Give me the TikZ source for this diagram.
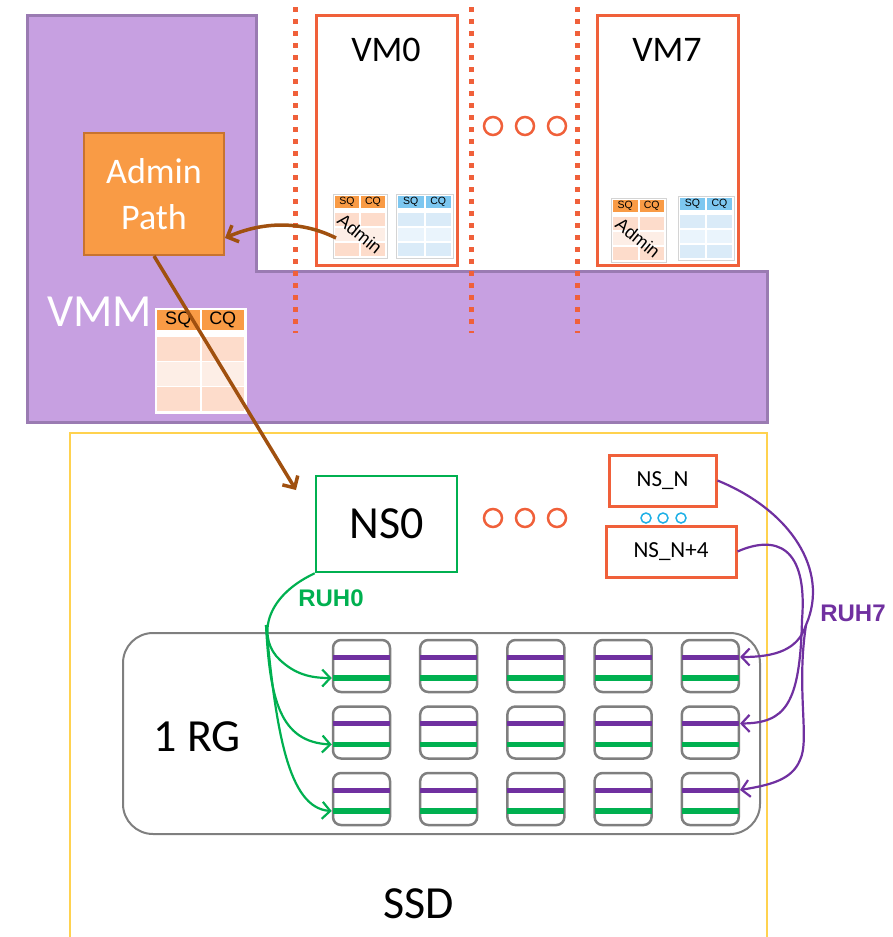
\documentclass[tikz,border=0pt]{standalone}
\usepackage{fontspec}
\setmainfont{Carlito}
\newfontfamily\arialf{Liberation Sans}
\usetikzlibrary{arrows.meta}
\definecolor{vmmfill}{HTML}{C7A0E1}
\definecolor{vmmline}{HTML}{9A7BB2}
\definecolor{vmred}{HTML}{F0603A}
\definecolor{admfill}{HTML}{F99B45}
\definecolor{admline}{HTML}{C8732F}
\definecolor{rowA}{HTML}{FDDCCB}
\definecolor{rowB}{HTML}{FDEEE6}
\definecolor{bhdr}{HTML}{7DC7F0}
\definecolor{browA}{HTML}{DAEBF8}
\definecolor{browB}{HTML}{EAF4FC}
\definecolor{ssdy}{HTML}{FFD24F}
\definecolor{grn}{HTML}{00B050}
\definecolor{prp}{HTML}{7030A0}
\definecolor{brn}{HTML}{A0500F}
\definecolor{gry}{HTML}{7F7F7F}
\definecolor{nsblue}{HTML}{1FB0E6}
\definecolor{tabline}{HTML}{D4D4D4}
\newcommand\qtab[9]{%
\pgfmathsetmacro\qcw{(#3-6)/2}%
\pgfmathsetmacro\qhh{0.19*#4}%
\pgfmathsetmacro\qrh{(#4-7-\qhh-0.07*#4)/3}%
\pgfmathsetmacro\qry{#2+2+\qhh+0.07*#4}%
\draw[draw=#8,fill=white,line width=0.8] (#1,#2) rectangle ++(#3,#4);
\foreach \qc in {0,1}{%
 \pgfmathsetmacro\qx{#1+2+\qc*(\qcw+2)}%
 \fill[#5] (\qx,{#2+2}) rectangle ++(\qcw,\qhh);
 \fill[#6] (\qx,\qry) rectangle ++(\qcw,\qrh);
 \fill[#7] (\qx,{\qry+\qrh+1.5}) rectangle ++(\qcw,\qrh);
 \fill[#6] (\qx,{\qry+2*\qrh+3}) rectangle ++(\qcw,\qrh);
}
\node[font=\arialf\fontsize{#9}{#9}\selectfont,inner sep=0] at ({#1+2+\qcw/2},{#2+2+\qhh/2}) {SQ};
\node[font=\arialf\fontsize{#9}{#9}\selectfont,inner sep=0] at ({#1+4+1.5*\qcw},{#2+2+\qhh/2}) {CQ};
}
\tikzset{
 vmbox/.style={draw=vmred,line width=3,fill=white,minimum width=141,minimum height=250,inner sep=0},
 dotline/.style={draw=vmred,line width=5,dash pattern=on 5 off 7},
 dotc/.style={draw=vmred,line width=2.5,circle,minimum size=18,inner sep=0},
 smallc/.style={draw=nsblue,line width=1.5,circle,minimum size=10,inner sep=0},
 nsbox/.style={draw=vmred,line width=3,fill=white,inner sep=0,font=\fontsize{23}{26}\selectfont},
 cellbox/.style={draw=gry,line width=2.5,rounded corners=8,minimum width=57,minimum height=52,inner sep=0},
 brnarrow/.style={draw=brn,line width=3.5,-{Straight Barb[length=9pt,width=18pt]}},
 grnarrow/.style={draw=grn,line width=2.2,-{Straight Barb[length=8pt,width=17pt]}},
 prparrow/.style={draw=prp,line width=2.2,-{Straight Barb[length=8pt,width=17pt]}},
 bigtxt/.style={font=\fontsize{46}{50}\selectfont,inner sep=0},
}
\begin{document}
\begin{tikzpicture}[x=1pt,y=-1pt]
\useasboundingbox (0,0) rectangle (892,937);
% VMM
\draw[vmmline,fill=vmmfill,line width=3] (27,15) -- (256,15) -- (256,271) -- (767,271) -- (767,422) -- (27,422) -- cycle;
\node[bigtxt,text=white,anchor=west] (vmml) at (47,312) {VMM};
% SSD
\draw[ssdy,line width=2.5] (70,937) -- (70,433) -- (767,433) -- (767,937);
\node[bigtxt] (ssdl) at (419,904) {SSD};
% dotted separators
\draw[dotline] (295,7) -- (295,333);
\draw[dotline] (471,7) -- (471,333);
\draw[dotline] (577,7) -- (577,333);
% VMs
\node[vmbox] (vm0) at (386.5,140) {};
\node[vmbox] (vm7) at (667.5,140) {};
\node[font=\fontsize{36}{40}\selectfont,inner sep=0] (vm0l) at (386,50) {VM0};
\node[font=\fontsize{36}{40}\selectfont,inner sep=0] (vm7l) at (667,50) {VM7};
\node[dotc] (d1) at (493,126) {};
\node[dotc] (d2) at (525,126) {};
\node[dotc] (d3) at (557,126) {};
% queue tables
\qtab{333}{194}{54}{64}{admfill}{rowA}{rowB}{tabline}{10.5}
\qtab{396}{194}{57}{64}{bhdr}{browA}{browB}{tabline}{10.5}
\qtab{611}{198}{55}{64}{admfill}{rowA}{rowB}{tabline}{10.5}
\qtab{678}{196}{56}{64}{bhdr}{browA}{browB}{tabline}{10.5}
\qtab{155}{308}{91}{105}{admfill}{rowA}{rowB}{white}{18}
\node[font=\arialf\fontsize{18}{18}\selectfont,rotate=-39,inner sep=0] (adt0) at (360,234) {Admin};
\node[font=\arialf\fontsize{18}{18}\selectfont,rotate=-39,inner sep=0] (adt7) at (638,238) {Admin};
% Admin path
\node[draw=admline,fill=admfill,line width=2,minimum width=140,minimum height=122,inner sep=0,
      text=white,align=center,font=\fontsize{36}{46}\selectfont] (admin) at (154,194) {Admin\\Path};
\coordinate (adm0) at (336,238);
\coordinate (nsin) at (296,490);
% NS boxes
\node[draw=grn,line width=2.5,fill=white,minimum width=141,minimum height=96,inner sep=0,
      font=\fontsize{46}{50}\selectfont] (ns0) at (386.5,524) {NS0};
\node[dotc] (e1) at (493,518) {};
\node[dotc] (e2) at (525,518) {};
\node[dotc] (e3) at (557,518) {};
\node[nsbox,minimum width=107,minimum height=51] (nsn) at (662.5,480.5) {NS\_N};
\node[nsbox,minimum width=130,minimum height=51] (nsn4) at (671,551.5) {NS\_N+4};
\node[smallc] (f1) at (646,518) {};
\node[smallc] (f2) at (663,518) {};
\node[smallc] (f3) at (681,518) {};
% RG
\draw[gry,line width=2,rounded corners=30] (123,633) rectangle (760,834);
\node[bigtxt] (rgl) at (197,737) {1 RG};
\foreach \i in {0,...,4}{
 \foreach \j in {0,1,2}{
  \pgfmathsetmacro\cx{361.5+87.2*\i}
  \pgfmathsetmacro\cy{666+66.5*\j}
  \node[cellbox] (c\i\j) at (\cx,\cy) {};
  \draw[prp,line width=5] ([xshift=1.2pt,yshift=9pt]c\i\j.west) -- ([xshift=-1.2pt,yshift=9pt]c\i\j.east);
  \draw[grn,line width=5.5] ([xshift=1.2pt,yshift=-12pt]c\i\j.west) -- ([xshift=-1.2pt,yshift=-12pt]c\i\j.east);
 }
}
% brown arrows
\draw[brnarrow] (adm0) .. controls (300,220) and (262,222) .. ([yshift=-44pt]admin.east);
\draw[brnarrow] (admin.south) -- (nsin);
% RUH0 green
\coordinate (gsplit) at (266,625);
\draw[grnarrow] (ns0.south west) .. controls (262,598) and (258,640) .. (280,660) .. controls (295,674) and (310,678) .. ([yshift=-12pt]c00.west);
\draw[grnarrow] (gsplit) .. controls (270,700) and (280,742) .. ([yshift=-12pt]c01.west);
\draw[grnarrow] (gsplit) .. controls (276,730) and (288,808) .. ([yshift=-12pt]c02.west);
\node[font=\arialf\bfseries\fontsize{24}{24}\selectfont,text=grn,inner sep=0] (ruh0) at (331,598) {RUH0};
% RUH7 purple
\coordinate (psplit) at (806,625);
\draw[prparrow] (nsn.east) .. controls (790,510) and (830,570) .. (psplit) .. controls (798,650) and (775,657) .. ([yshift=9pt]c40.east);
\draw[prparrow] (nsn4.east) .. controls (775,535) and (808,545) .. (802,620) .. controls (800,705) and (785,723) .. ([yshift=9pt]c41.east);
\draw[prparrow] (psplit) .. controls (796,690) and (810,740) .. (800,760) .. controls (792,780) and (770,785) .. ([yshift=9pt]c42.east);
\node[font=\arialf\bfseries\fontsize{24}{24}\selectfont,text=prp,inner sep=0] (ruh7) at (853,613) {RUH7};
\end{tikzpicture}
\end{document}
